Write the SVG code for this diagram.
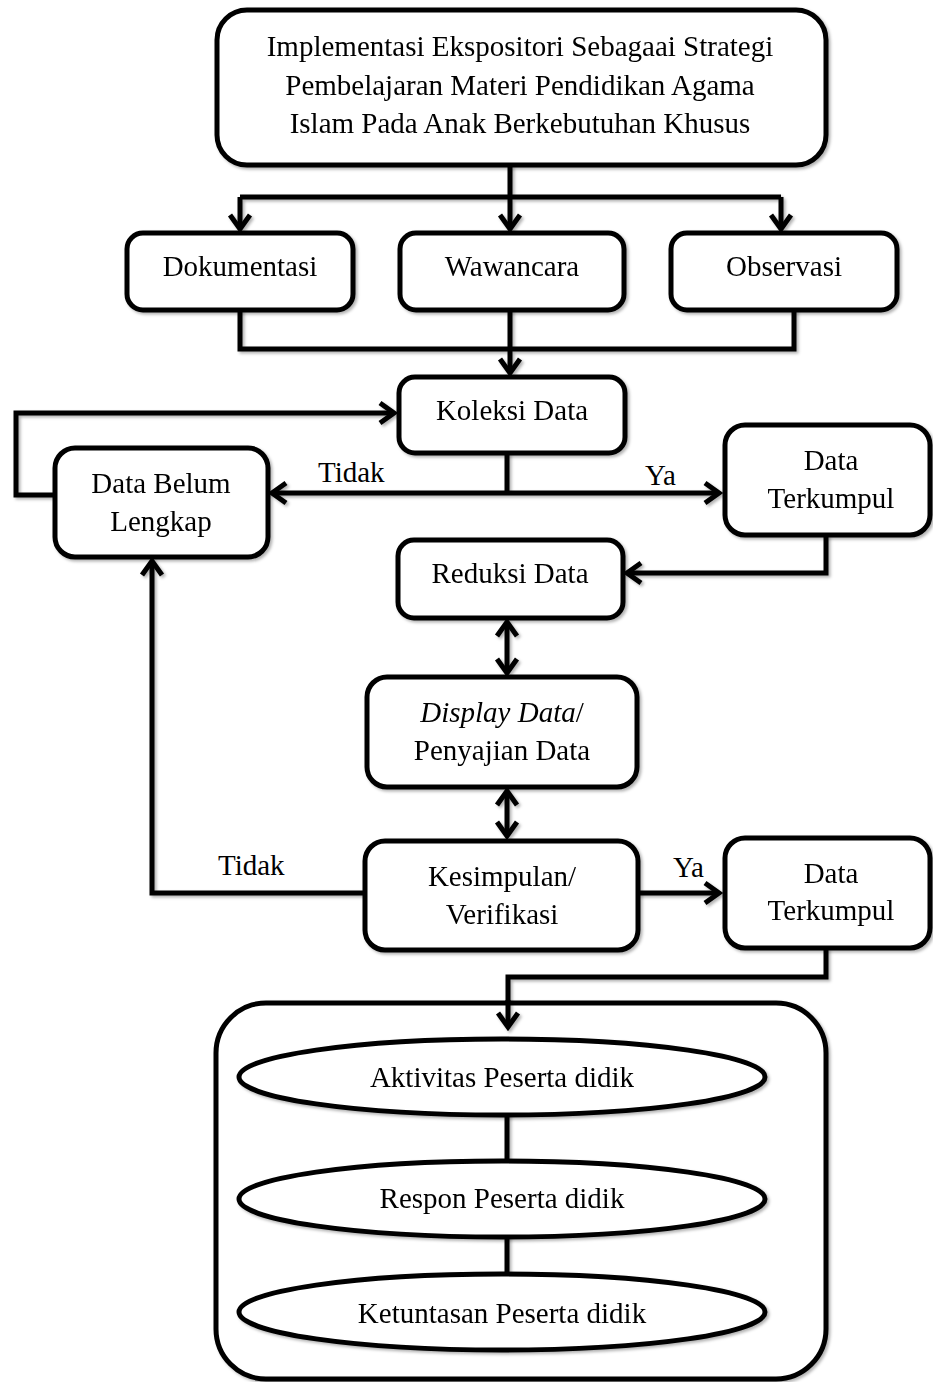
<svg xmlns="http://www.w3.org/2000/svg" width="933" height="1382" viewBox="0 0 933 1382">
<style>
.box{fill:#fff;stroke:#000;stroke-width:5}
.ln{fill:none;stroke:#000;stroke-width:5;stroke-linejoin:miter}
.t{font-family:"Liberation Serif","Times New Roman",serif;font-size:29px;fill:#000;text-anchor:middle}
.lb{font-family:"Liberation Serif","Times New Roman",serif;font-size:29px;fill:#000}
</style>
<defs>
<filter id="sh" filterUnits="userSpaceOnUse" x="0" y="0" width="933" height="1382">
<feDropShadow dx="2" dy="2" stdDeviation="1.5" flood-color="#000" flood-opacity="0.3"/>
</filter>
<marker id="ah" markerUnits="userSpaceOnUse" viewBox="-18 -14 22 28" refX="0" refY="0" markerWidth="22" markerHeight="28" orient="auto-start-reverse">
<path d="M-14,-10 L0,0 L-14,10" fill="none" stroke="#000" stroke-width="5" stroke-linejoin="miter"/>
</marker>
</defs>
<g id="connectors" filter="url(#sh)">
<path class="ln" d="M510,165 V197"/>
<path class="ln" d="M240,197 H781"/>
<path class="ln" d="M240,197 V229" marker-end="url(#ah)"/>
<path class="ln" d="M510,197 V229" marker-end="url(#ah)"/>
<path class="ln" d="M781,197 V229" marker-end="url(#ah)"/>
<path class="ln" d="M240,310 V349 H794 V310"/>
<path class="ln" d="M510,310 V373" marker-end="url(#ah)"/>
<path class="ln" d="M507,453 V493"/>
<path class="ln" d="M507,493 H272" marker-end="url(#ah)"/>
<path class="ln" d="M507,493 H719" marker-end="url(#ah)"/>
<path class="ln" d="M55,495 H16 V413 H394" marker-end="url(#ah)"/>
<path class="ln" d="M826,535 V573 H627" marker-end="url(#ah)"/>
<path class="ln" d="M507,622 V673" marker-start="url(#ah)" marker-end="url(#ah)"/>
<path class="ln" d="M507,791 V836" marker-start="url(#ah)" marker-end="url(#ah)"/>
<path class="ln" d="M365,893 H152 V561" marker-end="url(#ah)"/>
<path class="ln" d="M638,893 H719" marker-end="url(#ah)"/>
<path class="ln" d="M826,948 V977 H508 V1003"/>
</g>
<g id="top" filter="url(#sh)">
<rect class="box" x="217" y="10" width="609" height="155" rx="30"/>
<text class="t" x="520" y="56">Implementasi Ekspositori Sebagaai Strategi</text>
<text class="t" x="520" y="95">Pembelajaran Materi Pendidikan Agama</text>
<text class="t" x="520" y="133">Islam Pada Anak Berkebutuhan Khusus</text>
</g>
<g id="dokumentasi" filter="url(#sh)">
<rect class="box" x="127" y="233" width="226" height="77" rx="16"/>
<text class="t" x="240" y="276">Dokumentasi</text>
</g>
<g id="wawancara" filter="url(#sh)">
<rect class="box" x="400" y="233" width="224" height="77" rx="16"/>
<text class="t" x="512" y="276">Wawancara</text>
</g>
<g id="observasi" filter="url(#sh)">
<rect class="box" x="671" y="233" width="226" height="77" rx="16"/>
<text class="t" x="784" y="276">Observasi</text>
</g>
<g id="koleksi" filter="url(#sh)">
<rect class="box" x="399" y="377" width="226" height="76" rx="16"/>
<text class="t" x="512" y="420">Koleksi Data</text>
</g>
<g id="belum" filter="url(#sh)">
<rect class="box" x="55" y="448" width="213" height="109" rx="20"/>
<text class="t" x="161" y="493">Data Belum</text>
<text class="t" x="161" y="531">Lengkap</text>
</g>
<g id="terkumpul1" filter="url(#sh)">
<rect class="box" x="725" y="425" width="205" height="110" rx="20"/>
<text class="t" x="831" y="470">Data</text>
<text class="t" x="831" y="508">Terkumpul</text>
</g>
<g id="reduksi" filter="url(#sh)">
<rect class="box" x="398" y="540" width="225" height="78" rx="16"/>
<text class="t" x="510" y="583">Reduksi Data</text>
</g>
<g id="display" filter="url(#sh)">
<rect class="box" x="367" y="677" width="270" height="110" rx="20"/>
<text class="t" x="502" y="722"><tspan font-style="italic">Display Data</tspan>/</text>
<text class="t" x="502" y="760">Penyajian Data</text>
</g>
<g id="kesimpulan" filter="url(#sh)">
<rect class="box" x="365" y="841" width="273" height="109" rx="20"/>
<text class="t" x="502" y="886">Kesimpulan/</text>
<text class="t" x="502" y="924">Verifikasi</text>
</g>
<g id="terkumpul2" filter="url(#sh)">
<rect class="box" x="725" y="838" width="205" height="110" rx="20"/>
<text class="t" x="831" y="883">Data</text>
<text class="t" x="831" y="920">Terkumpul</text>
</g>
<g id="labels">
<text class="lb" x="318" y="482">Tidak</text>
<text class="lb" x="645" y="485">Ya</text>
<text class="lb" x="218" y="875">Tidak</text>
<text class="lb" x="673" y="877">Ya</text>
</g>
<g id="hasil" filter="url(#sh)">
<rect class="box" x="216" y="1003" width="610" height="376" rx="50"/>
</g>
<g id="inner-connectors" filter="url(#sh)">
<path class="ln" d="M508,1000 V1027" marker-end="url(#ah)"/>
<path class="ln" d="M507,1110 V1165"/>
<path class="ln" d="M507,1232 V1278"/>
</g>
<g id="aktivitas" filter="url(#sh)">
<ellipse class="box" cx="502" cy="1077" rx="263" ry="38"/>
<text class="t" x="502" y="1087">Aktivitas Peserta didik</text>
</g>
<g id="respon" filter="url(#sh)">
<ellipse class="box" cx="502" cy="1199" rx="263" ry="38"/>
<text class="t" x="502" y="1208">Respon Peserta didik</text>
</g>
<g id="ketuntasan" filter="url(#sh)">
<ellipse class="box" cx="502" cy="1312" rx="263" ry="38"/>
<text class="t" x="502" y="1323">Ketuntasan Peserta didik</text>
</g>
</svg>
